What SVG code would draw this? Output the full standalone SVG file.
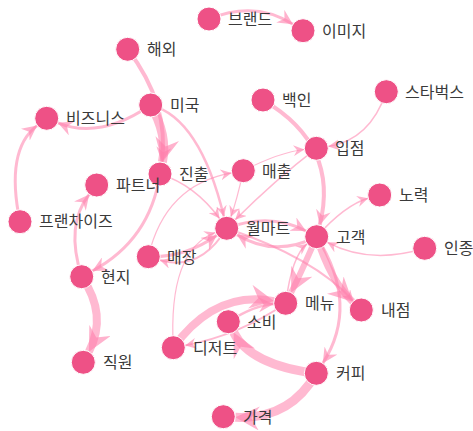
<svg xmlns="http://www.w3.org/2000/svg" width="473" height="431" viewBox="0 0 473 431">
<style>
.e{fill:none;stroke:#ff7fab;stroke-opacity:0.55}
.n circle{fill:#ee5186;stroke:#fff;stroke-width:1}
.n text{font-family:"Noto Sans CJK KR","Noto Sans",sans-serif;font-size:16px;fill:#3a3a3a}
</style>
<defs>
<marker id="as" viewBox="-12 -6 12 12" refX="0" refY="0" markerWidth="11" markerHeight="11" orient="auto" markerUnits="userSpaceOnUse"><path d="M0,0 L-12,-6 L-8,0 L-12,6 Z" fill="#ff7fab" fill-opacity="0.6"/></marker>
<marker id="am" viewBox="-12 -6 12 12" refX="0" refY="0" markerWidth="15" markerHeight="15" orient="auto" markerUnits="userSpaceOnUse"><path d="M0,0 L-12,-6 L-8,0 L-12,6 Z" fill="#ff7fab" fill-opacity="0.6"/></marker>
<marker id="al" viewBox="-12 -6 12 12" refX="0" refY="0" markerWidth="24" markerHeight="24" orient="auto" markerUnits="userSpaceOnUse"><path d="M0,0 L-12,-6 L-8,0 L-12,6 Z" fill="#ff7fab" fill-opacity="0.6"/></marker>
</defs>
<g id="edges">
<path class="e" stroke-width="3" marker-end="url(#am)" d="M209,19 Q255,0 292.9,24.2"/>
<path class="e" stroke-width="4" marker-end="url(#am)" d="M127.7,49.3 Q170,105 161.7,162.1"/>
<path class="e" stroke-width="9" marker-end="url(#al)" d="M150.7,105 Q168,135 162.4,162.2"/>
<path class="e" stroke-width="3" marker-end="url(#am)" d="M150.7,105 Q100,140 57.8,122.8"/>
<path class="e" stroke-width="2.5" marker-end="url(#as)" d="M150.7,105 Q200,118 223.9,216.6"/>
<path class="e" stroke-width="3" marker-end="url(#am)" d="M20,221.7 Q5,150 37.1,125.6"/>
<path class="e" stroke-width="3" marker-end="url(#am)" d="M160,174 Q150,240 92.3,271"/>
<path class="e" stroke-width="8" marker-end="url(#al)" d="M81.7,276.7 Q108,315 88.9,351.7"/>
<path class="e" stroke-width="3" marker-end="url(#am)" d="M81.7,276.7 Q65,225 89.2,194.4"/>
<path class="e" stroke-width="1.5" marker-end="url(#as)" d="M160,174 Q195,185 219.6,218.6"/>
<path class="e" stroke-width="1.2" marker-end="url(#as)" d="M148.3,256.7 Q165,185 231.5,172.9"/>
<path class="e" stroke-width="1.2" marker-end="url(#as)" d="M243.3,170.7 Q280,152 304.4,149.5"/>
<path class="e" stroke-width="1.2" marker-end="url(#as)" d="M243.3,170.7 Q237,200 230.8,217"/>
<path class="e" stroke-width="1.5" marker-end="url(#as)" d="M316.3,148.3 Q275,180 235.2,219.8"/>
<path class="e" stroke-width="4" marker-end="url(#am)" d="M263,100 Q340,145 319.7,225.1"/>
<path class="e" stroke-width="1.5" marker-end="url(#as)" d="M386.3,91.7 Q370,140 328.2,146.5"/>
<path class="e" stroke-width="1.5" marker-end="url(#as)" d="M316.7,236.7 Q345,205 368.2,198.3"/>
<path class="e" stroke-width="1.5" marker-end="url(#as)" d="M424.7,248.3 Q370,265 327.3,242.3"/>
<path class="e" stroke-width="3" marker-end="url(#am)" d="M226.7,228.3 Q270,212 306.1,231.1"/>
<path class="e" stroke-width="3" marker-end="url(#am)" d="M316.7,236.7 Q275,258 236.9,234.6"/>
<path class="e" stroke-width="7" marker-end="url(#al)" d="M316.7,236.7 Q330,280 352.6,301.7"/>
<path class="e" stroke-width="2" marker-end="url(#as)" d="M226.7,228.3 Q315,258 353.3,301"/>
<path class="e" stroke-width="3" marker-end="url(#am)" d="M316.7,236.7 Q360,305 322.8,363.2"/>
<path class="e" stroke-width="6" marker-end="url(#al)" d="M316.7,236.7 Q300,275 291.1,292.6"/>
<path class="e" stroke-width="1.5" marker-end="url(#as)" d="M285.7,303.3 Q292,255 307.1,243.9"/>
<path class="e" stroke-width="8" marker-end="url(#al)" d="M173.3,347.7 Q215,290 273.9,301.1"/>
<path class="e" stroke-width="2.5" marker-end="url(#am)" d="M228.3,321.7 Q255,305 273.7,304"/>
<path class="e" stroke-width="2" marker-end="url(#as)" d="M285.7,303.3 Q240,335 185.1,345.5"/>
<path class="e" stroke-width="9" marker-end="url(#al)" d="M316.3,373.3 Q250,365 233.7,332.4"/>
<path class="e" stroke-width="9" marker-end="url(#al)" d="M316.3,373.3 Q290,420 235.3,417.3"/>
<path class="e" stroke-width="3" marker-end="url(#am)" d="M148.3,256.7 Q185,258 216.9,235.3"/>
<path class="e" stroke-width="2" marker-end="url(#as)" d="M226.7,228.3 Q200,272 159.8,260.1"/>
<path class="e" stroke-width="1.2" marker-end="url(#as)" d="M173.3,347.7 Q168,250 215.4,232.5"/>
</g>
<g id="n-brand" class="n"><circle cx="209" cy="19" r="12"/><text x="228" y="25">브랜드</text></g>
<g id="n-image" class="n"><circle cx="303" cy="30.7" r="12"/><text x="322" y="37">이미지</text></g>
<g id="n-overseas" class="n"><circle cx="127.7" cy="49.3" r="12"/><text x="147" y="55">해외</text></g>
<g id="n-usa" class="n"><circle cx="150.7" cy="105" r="12"/><text x="170" y="111">미국</text></g>
<g id="n-business" class="n"><circle cx="46.7" cy="118.3" r="12"/><text x="66" y="124">비즈니스</text></g>
<g id="n-white" class="n"><circle cx="263" cy="100" r="12"/><text x="282" y="106">백인</text></g>
<g id="n-starbucks" class="n"><circle cx="386.3" cy="91.7" r="12"/><text x="405" y="98">스타벅스</text></g>
<g id="n-entry" class="n"><circle cx="316.3" cy="148.3" r="12"/><text x="335" y="154">입점</text></g>
<g id="n-advance" class="n"><circle cx="160" cy="174" r="12"/><text x="179" y="180">진출</text></g>
<g id="n-partner" class="n"><circle cx="96.7" cy="185" r="12"/><text x="116" y="191">파트너</text></g>
<g id="n-sales" class="n"><circle cx="243.3" cy="170.7" r="12"/><text x="262" y="177">매출</text></g>
<g id="n-effort" class="n"><circle cx="379.7" cy="195" r="12"/><text x="399" y="201">노력</text></g>
<g id="n-franchise" class="n"><circle cx="20" cy="221.7" r="12"/><text x="39" y="227">프랜차이즈</text></g>
<g id="n-walmart" class="n"><circle cx="226.7" cy="228.3" r="12"/><text x="246" y="234">월마트</text></g>
<g id="n-customer" class="n"><circle cx="316.7" cy="236.7" r="12"/><text x="336" y="243">고객</text></g>
<g id="n-race" class="n"><circle cx="424.7" cy="248.3" r="12"/><text x="444" y="254">인종</text></g>
<g id="n-store" class="n"><circle cx="148.3" cy="256.7" r="12"/><text x="167" y="263">매장</text></g>
<g id="n-local" class="n"><circle cx="81.7" cy="276.7" r="12"/><text x="101" y="283">현지</text></g>
<g id="n-menu" class="n"><circle cx="285.7" cy="303.3" r="12"/><text x="305" y="309">메뉴</text></g>
<g id="n-visit" class="n"><circle cx="361.3" cy="310" r="12"/><text x="381" y="316">내점</text></g>
<g id="n-consume" class="n"><circle cx="228.3" cy="321.7" r="12"/><text x="247" y="328">소비</text></g>
<g id="n-dessert" class="n"><circle cx="173.3" cy="347.7" r="12"/><text x="193" y="354">디저트</text></g>
<g id="n-staff" class="n"><circle cx="83.3" cy="362.3" r="12"/><text x="103" y="368">직원</text></g>
<g id="n-coffee" class="n"><circle cx="316.3" cy="373.3" r="12"/><text x="336" y="379">커피</text></g>
<g id="n-price" class="n"><circle cx="223.3" cy="416.7" r="12"/><text x="243" y="423">가격</text></g>
</svg>
